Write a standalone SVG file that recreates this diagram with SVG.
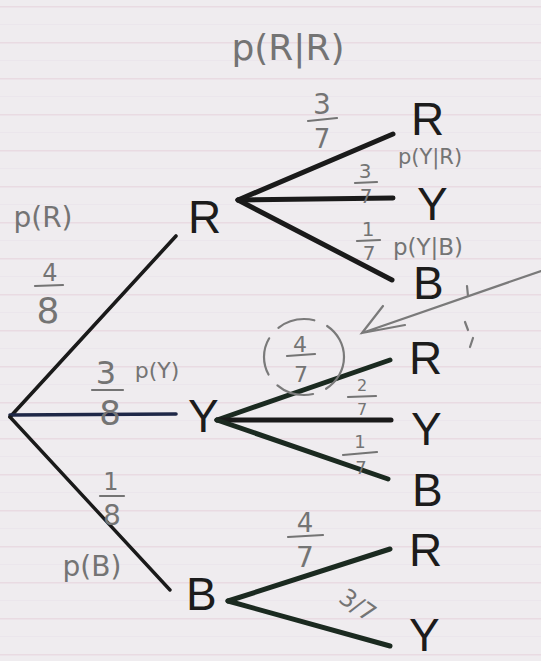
<svg xmlns="http://www.w3.org/2000/svg" width="541" height="661" viewBox="0 0 541 661">
  <defs>
    <pattern id="rule" x="0" y="6" width="541" height="36" patternUnits="userSpaceOnUse">
      <rect x="0" y="0" width="541" height="1.5" fill="#e6d3dd"/>
      <rect x="0" y="18" width="541" height="1" fill="#e9e3ea"/>
    </pattern>
  </defs>
  <style>
    .lbl { font-family: "Liberation Sans", Arial, sans-serif; font-size: 46px; fill: #1c1c1c; }
    .edge { stroke: #1a1a1a; stroke-linecap: round; fill: none; }
    .hw { font-family: "DejaVu Sans", "Liberation Sans", sans-serif; fill: #747474; text-anchor: middle; }
    .bar { stroke: #747474; stroke-width: 2.2; stroke-linecap: round; }
    .pen { stroke: #7a7a7a; stroke-width: 2.2; stroke-linecap: round; fill: none; }
  </style>
  <rect width="541" height="661" fill="#efecef"/>
  <rect width="541" height="661" fill="url(#rule)" opacity="0.7"/>

  <g id="connectors">
    <line class="edge" x1="10" y1="417" x2="176" y2="236" stroke-width="3.6"/>
    <line class="edge" x1="10" y1="415" x2="176" y2="414" stroke-width="3.6" style="stroke:#1f2847"/>
    <line class="edge" x1="10" y1="417" x2="170" y2="590" stroke-width="3.4"/>
    <line class="edge" x1="238" y1="200" x2="393" y2="134" stroke-width="5"/>
    <line class="edge" x1="238" y1="200" x2="393" y2="198" stroke-width="5"/>
    <line class="edge" x1="238" y1="200" x2="392" y2="280" stroke-width="5"/>
    <line class="edge" x1="217" y1="420" x2="390" y2="360" stroke-width="5" style="stroke:#1b2a20"/>
    <line class="edge" x1="217" y1="420" x2="391" y2="420" stroke-width="5"/>
    <line class="edge" x1="217" y1="420" x2="388" y2="479" stroke-width="5" style="stroke:#1b2a20"/>
    <line class="edge" x1="228" y1="601" x2="390" y2="549" stroke-width="5" style="stroke:#1b2a20"/>
    <line class="edge" x1="228" y1="601" x2="390" y2="646" stroke-width="5" style="stroke:#1b2a20"/>
  </g>

  <g id="root"></g>
  <g id="node-R"><text class="lbl" x="188" y="233">R</text></g>
  <g id="node-Y"><text class="lbl" x="188" y="432">Y</text></g>
  <g id="node-B"><text class="lbl" x="186" y="610">B</text></g>
  <g id="node-RR"><text class="lbl" x="411" y="135">R</text></g>
  <g id="node-RY"><text class="lbl" x="417" y="220">Y</text></g>
  <g id="node-RB"><text class="lbl" x="413" y="299">B</text></g>
  <g id="node-YR"><text class="lbl" x="409" y="374">R</text></g>
  <g id="node-YY"><text class="lbl" x="411" y="445">Y</text></g>
  <g id="node-YB"><text class="lbl" x="412" y="506">B</text></g>
  <g id="node-BR"><text class="lbl" x="409" y="566">R</text></g>
  <g id="node-BY"><text class="lbl" x="409" y="651">Y</text></g>

  <g id="annotations">
    <text class="hw" x="288" y="60" font-size="36">p(R|R)</text>
    <text class="hw" x="430" y="164" font-size="21">p(Y|R)</text>
    <text class="hw" x="428" y="255" font-size="23">p(Y|B)</text>
    <text class="hw" x="43" y="227" font-size="28">p(R)</text>
    <text class="hw" x="157" y="378" font-size="22">p(Y)</text>
    <text class="hw" x="92" y="576" font-size="28">p(B)</text>

    <text class="hw" x="322" y="114" font-size="28">3</text>
    <line class="bar" x1="308" y1="121" x2="337" y2="118"/>
    <text class="hw" x="322" y="148" font-size="26">7</text>

    <text class="hw" x="365" y="178" font-size="20">3</text>
    <line class="bar" x1="355" y1="183" x2="377" y2="182"/>
    <text class="hw" x="366" y="203" font-size="20">7</text>

    <text class="hw" x="368" y="236" font-size="20">1</text>
    <line class="bar" x1="357" y1="241" x2="380" y2="240"/>
    <text class="hw" x="369" y="260" font-size="20">7</text>

    <text class="hw" x="50" y="281" font-size="24">4</text>
    <line class="bar" x1="35" y1="286" x2="63" y2="285"/>
    <text class="hw" x="48" y="323" font-size="36">8</text>

    <text class="hw" x="106" y="384" font-size="32">3</text>
    <line class="bar" x1="92" y1="390" x2="123" y2="390"/>
    <text class="hw" x="110" y="425" font-size="34">8</text>

    <text class="hw" x="111" y="490" font-size="24">1</text>
    <line class="bar" x1="100" y1="496" x2="124" y2="496"/>
    <text class="hw" x="112" y="525" font-size="28">8</text>

    <text class="hw" x="300" y="352" font-size="22">4</text>
    <line class="bar" x1="287" y1="356" x2="315" y2="354"/>
    <text class="hw" x="301" y="382" font-size="22">7</text>
    <ellipse cx="304" cy="357" rx="40" ry="38" class="pen" stroke-dasharray="38 14"/>

    <text class="hw" x="362" y="391" font-size="16">2</text>
    <line class="bar" x1="348" y1="397" x2="376" y2="396"/>
    <text class="hw" x="362" y="415" font-size="16">7</text>

    <text class="hw" x="360" y="448" font-size="18">1</text>
    <line class="bar" x1="343" y1="455" x2="377" y2="452"/>
    <text class="hw" x="361" y="474" font-size="18">7</text>

    <text class="hw" x="305" y="532" font-size="26">4</text>
    <line class="bar" x1="288" y1="537" x2="323" y2="535"/>
    <text class="hw" x="305" y="567" font-size="28">7</text>

    <text class="hw" x="0" y="0" font-size="24" transform="translate(353 612) rotate(35)">3/7</text>

    <path class="pen" d="M541 271 L362 333 M383 306 L362 333 L405 325"/>
    <path class="pen" d="M467 286 L468 296 M465 322 L468 330 M473 338 L470 347"/>
  </g>
</svg>
